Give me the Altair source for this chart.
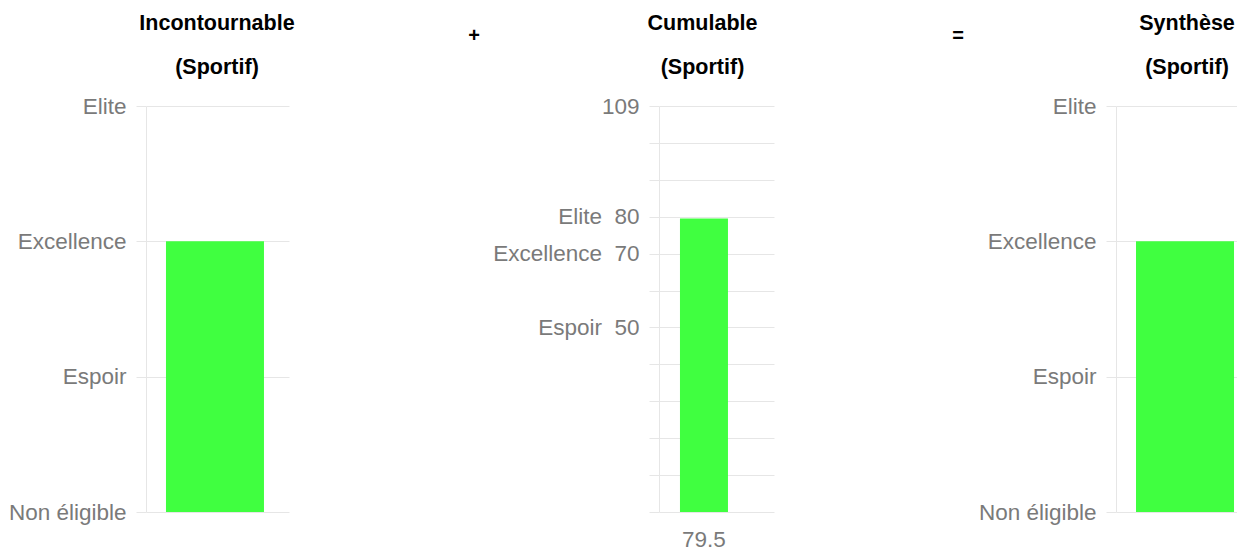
import altair as alt
import pandas as pd

# ---- data ----
levels = ["Non éligible", "Espoir", "Excellence", "Elite"]
level_values = [0, 1, 2, 3]

inc_title = ["Incontournable", "(Sportif)"]
cum_title = ["Cumulable", "(Sportif)"]
syn_title = ["Synthèse", "(Sportif)"]
operators = ["+", "="]

inc_level = [2]          # Excellence
syn_level = [2]          # Excellence
cum_score = [79.5]
cum_category = ["79.5"]

cum_grid_values = [0, 10, 20, 30, 40, 50, 60, 70, 80, 90, 100, 110]
cum_label_values = [110, 80, 70, 50]
cum_label_texts = ["109", "Elite\u00a0\u00a080", "Excellence\u00a0\u00a070", "Espoir\u00a0\u00a050"]

# ---- style ----
FONT = "Liberation Sans"
GRID = "#e6e6e6"
LABEL = "#7a7a7a"
GREEN = "#40ff40"
TITLE_SIZE = 21.5
LABEL_SIZE = 22.5
H = 406

level_expr = "[" + ",".join("'" + s + "'" for s in levels) + "][datum.value]"
cum_expr = ""
for v, t in zip(cum_label_values, cum_label_texts):
    cum_expr += f"datum.value == {v} ? '{t}' : "
cum_expr += "''"


def y_axis(values, expr):
    return alt.Axis(values=values, labelExpr=expr, title=None, tickSize=10,
                    labelPadding=10, domainColor=GRID, tickColor=GRID,
                    gridColor=GRID, grid=True, labelColor=LABEL,
                    labelFontSize=LABEL_SIZE, labelFont=FONT)


def title(text, dx):
    return alt.TitleParams(text=text, fontSize=TITLE_SIZE, font=FONT,
                           fontWeight="bold", color="black", lineHeight=44,
                           anchor="middle", offset=17, dx=dx)


def level_panel(lv, ttl, w, po, al, dx):
    df = pd.DataFrame({"cat": ["a"], "level": lv})
    return alt.Chart(df).mark_bar(color=GREEN).encode(
        x=alt.X("cat:N", axis=None,
                scale=alt.Scale(paddingInner=0, paddingOuter=po, align=al)),
        y=alt.Y("level:Q", scale=alt.Scale(domain=[0, 3], nice=False),
                axis=y_axis(level_values, level_expr)),
    ).properties(width=w, height=H, title=title(ttl, dx))


p1 = level_panel(inc_level, inc_title, 143, 0.2296, 0.444, -0.5)
p3 = level_panel(syn_level, syn_title, 121, 0.1173, 0.87, 10.5)

df2 = pd.DataFrame({"cat": cum_category, "score": cum_score})
p2 = alt.Chart(df2).mark_bar(color=GREEN).encode(
    x=alt.X("cat:N", title=None,
            scale=alt.Scale(paddingInner=0, paddingOuter=0.698, align=0.313),
            axis=alt.Axis(domain=False, ticks=False, labelAngle=0, labelPadding=16,
                          labelColor=LABEL, labelFontSize=LABEL_SIZE, labelFont=FONT,
                          grid=False)),
    y=alt.Y("score:Q", scale=alt.Scale(domain=[0, 110], nice=False),
            axis=y_axis(cum_grid_values, cum_expr)),
).properties(width=115, height=H, title=title(cum_title, -14))


def op_panel(sym, w, xpos):
    df = pd.DataFrame({"op": [sym]})
    return alt.Chart(df).mark_text(fontSize=20, font=FONT, fontWeight="bold",
                                   color="black", baseline="middle").encode(
        text="op:N", x=alt.value(xpos), y=alt.value(-70)
    ).properties(width=w, height=H)


plus = op_panel(operators[0], 370, 185)
eq = op_panel(operators[1], 342, 184)

chart = alt.hconcat(p1, plus, p2, eq, p3, spacing=0, bounds="flush").properties(
    padding={"left": 0, "top": 4, "right": 0, "bottom": 0}
).configure_view(stroke=None)

chart.save("out.html", embed_options={"renderer": "svg", "actions": False})
